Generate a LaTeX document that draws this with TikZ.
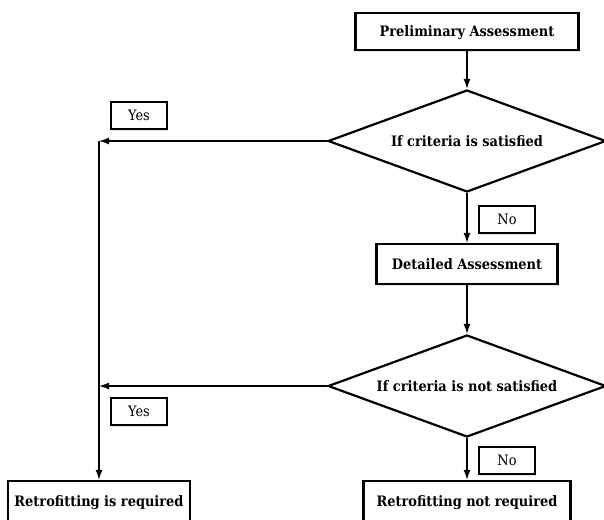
\documentclass[tikz,border=0pt]{standalone}
\usepackage{fontspec}
\setmainfont{DejaVu Serif Condensed}
\usetikzlibrary{shapes.geometric,arrows.meta,shadows}
\tikzset{
  txt/.style={text height=10.5pt, text depth=0pt},
  stepbox/.style={txt, draw=black, line width=2.2pt, fill=white, inner sep=0pt,
    font=\bfseries\fontsize{14.4}{16}\selectfont,
    drop shadow={shadow xshift=1pt, shadow yshift=-2pt, opacity=0.10, fill=black}},
  decision/.style={txt, draw=black, line width=2.2pt, shape=diamond, shape aspect=2.7,
    inner sep=0pt, minimum width=278pt, minimum height=102pt,
    font=\bfseries\fontsize{14.4}{16}\selectfont},
  tagbox/.style={txt, draw=black, line width=2.2pt, fill=white, inner sep=0pt,
    minimum width=56pt, minimum height=27pt, font=\fontsize{14.4}{16}\selectfont,
    drop shadow={shadow xshift=1pt, shadow yshift=-2pt, opacity=0.10, fill=black}},
  flow/.style={line width=1.3pt, -{Latex[length=10pt,width=7pt]}}
}
\begin{document}
\begin{tikzpicture}[x=1pt, y=-1pt]
  \useasboundingbox (0,0) rectangle (604,519);
  \node[stepbox, minimum width=223pt, minimum height=37pt] (pre) at (467,31.5) {Preliminary Assessment};
  \node[decision] (d1) at (467,141) {If criteria is satisfied};
  \node[tagbox] (yes1) at (139,115.5) {Yes};
  \node[tagbox] (no1) at (507,219.5) {No};
  \node[stepbox, minimum width=181pt, minimum height=40pt] (det) at (467,264) {Detailed Assessment};
  \node[decision] (d2) at (467,386) {If criteria is not satisfied};
  \node[tagbox] (yes2) at (139,411.5) {Yes};
  \node[tagbox] (no2) at (507,460.5) {No};
  \node[stepbox, minimum width=182pt, minimum height=40pt] (req) at (99,501) {Retrofitting is required};
  \node[stepbox, minimum width=207pt, minimum height=40pt] (notreq) at (467,501) {Retrofitting not required};
  \coordinate (c1) at (99,141);
  \coordinate (c2) at (99,386);
  \draw[flow] (pre.south) -- (d1.north);
  \draw[flow] (d1.west) -- (c1);
  \draw[flow] (c1) -- (req.north);
  \draw[flow] (d1.south) -- (det.north);
  \draw[flow] (det.south) -- (d2.north);
  \draw[flow] (d2.west) -- (c2);
  \draw[flow] (d2.south) -- (notreq.north);
\end{tikzpicture}
\end{document}
